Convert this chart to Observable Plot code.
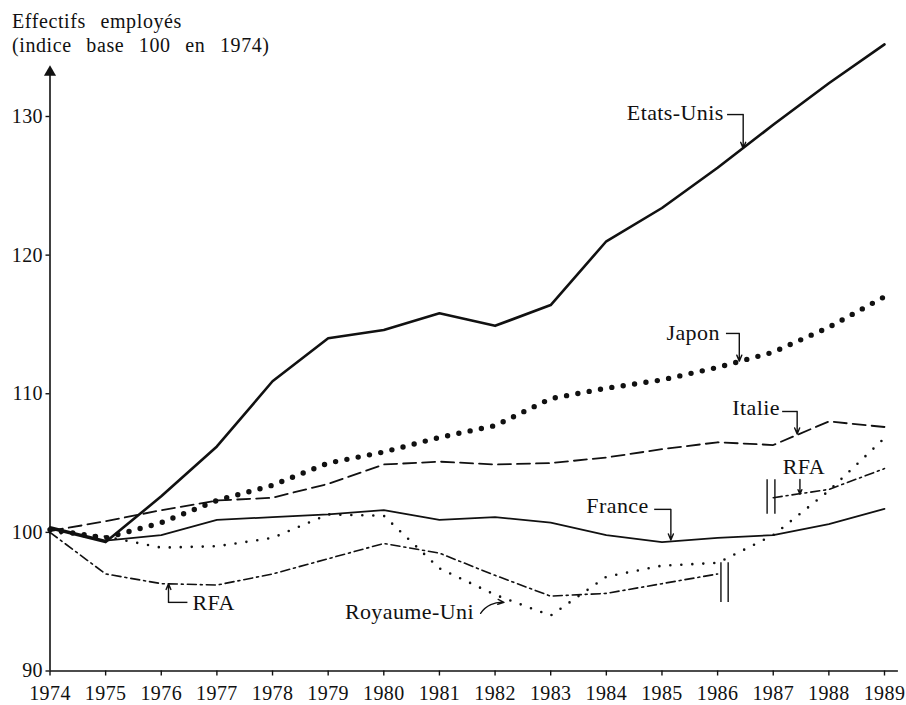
<!DOCTYPE html>
<html><head><meta charset="utf-8">
<script src="https://cdn.jsdelivr.net/npm/d3@7"></script>
<script src="https://cdn.jsdelivr.net/npm/@observablehq/plot@0.6"></script>
<style>
body{margin:0;background:#fff;}
#wrap{position:relative;width:906px;height:705px;overflow:hidden;}
#chart{position:absolute;left:0;top:0;}
#title{position:absolute;left:12px;top:8.7px;font-family:"Liberation Serif",serif;font-size:20px;line-height:24.5px;letter-spacing:0.6px;word-spacing:9px;color:#111;}
#chart svg text{letter-spacing:0.4px;}
</style></head><body>
<div id="wrap"><div id="chart"></div><div id="title">Effectifs employés<br>(indice base 100 en 1974)</div></div>
<script>
// ---- data ----
const years = [1974,1975,1976,1977,1978,1979,1980,1981,1982,1983,1984,1985,1986,1987,1988,1989];
const etatsUnis   = [100.3, 99.3,102.6,106.2,110.9,114.0,114.6,115.8,114.9,116.4,121.0,123.4,126.3,129.4,132.4,135.2];
const japon       = [100.2, 99.6,100.7,102.3,103.4,105.0,105.8,106.85,107.7,109.65,110.4,111.0,111.9,113.0,114.8,117.0];
const italie      = [100.1,100.8,101.6,102.3,102.5,103.5,104.9,105.1,104.9,105.0,105.4,106.0,106.5,106.3,108.0,107.6];
const france      = [100.4, 99.4, 99.8,100.9,101.1,101.3,101.6,100.9,101.1,100.7, 99.8, 99.3, 99.6, 99.8,100.6,101.7];
const royaumeUni  = [100.0, 99.7, 98.9, 99.0, 99.6,101.3,101.2, 97.4, 95.5, 94.0, 96.8, 97.6, 97.8, 99.8,103.0,106.8];
const rfaYears1   = [1974,1975,1976,1977,1978,1979,1980,1981,1982,1983,1984,1985,1986];
const rfa1        = [100.0, 97.0, 96.3, 96.2, 97.0, 98.1, 99.2, 98.5, 96.9, 95.4, 95.6, 96.3, 97.0];
const rfaYears2   = [1987,1988,1989];
const rfa2        = [102.5,103.1,104.6];

const yTicks = [90,100,110,120,130];
const axisXEnd = 1989.25;
const axisYTop = 133.2;

// annotations (data coordinates)
const labelNames  = ["Etats-Unis","Japon","Italie","RFA","France","RFA","Royaume-Uni"];
const labelX      = [1986.11,1986.04,1987.12,1987.55,1984.76,1976.56,1981.62];
const labelY      = [130.28,114.42,109.0,104.69,101.87,94.88,94.23];
const labelAnchor = ["end","end","end","middle","end","start","end"];
const leaderX1 = [1986.17,1986.15,1987.16,1984.86,1976.47];
const leaderX2 = [1986.46,1986.39,1987.43,1985.16,1976.13];
const leaderY  = [130.14,114.35,108.72,101.66,94.95];
const arrowX   = [1986.46,1986.39,1987.43,1987.48,1985.16,1976.13];
const arrowY1  = [130.14,114.35,108.72,103.82,101.66,94.95];
const arrowY2  = [127.7,112.35,107.1,102.75,99.45,96.3];
const ukArrow  = [{x1:1981.74,y1:94.16,x2:1982.16,y2:94.95}];
const breakX   = [1986.06,1986.19,1986.89,1987.03];
const breakY1  = [94.95,94.95,101.3,101.3];
const breakY2  = [97.8,97.8,103.8,103.8];

// ---- build tables ----
const toRows = (xs, vs) => xs.map((x,i)=>({year:x, value:vs[i]}));
const labels = labelNames.map((t,i)=>({t, x:labelX[i], y:labelY[i], a:labelAnchor[i]}));
const leaders = leaderY.map((y,i)=>({x1:leaderX1[i], x2:leaderX2[i], y}));
const arrows = arrowX.map((x,i)=>({x, y1:arrowY1[i], y2:arrowY2[i]}));
const breaks = breakX.map((x,i)=>({x, y1:breakY1[i], y2:breakY2[i]}));

const ink = "#111";
const lineOpts = (o) => Object.assign({x:"year", y:"value", stroke:ink, strokeLinejoin:"round"}, o);
const labelMark = (anchor) => Plot.text(labels.filter(d => d.a === anchor),
  {x:"x", y:"y", text:"t", textAnchor:anchor, fontSize:22, fill:ink});

const chart = Plot.plot({
  width: 906, height: 705,
  marginLeft: 49.5, marginRight: 22, marginTop: 116, marginBottom: 34.5,
  x: {domain:[1974,1989]},
  y: {domain:[90,130]},
  style: {fontFamily:"Liberation Serif, serif", fontSize:"20px", color:ink, background:"transparent", overflow:"visible"},
  marks: [
    Plot.axisY({ticks: yTicks, tickSize: 4, tickPadding: 3, label: null, fontSize: 20, strokeWidth: 1.4}),
    Plot.axisX({ticks: years, tickSize: 5, tickPadding: 9.5, tickFormat: d => String(d), label: null, fontSize: 20, strokeWidth: 1.4}),
    Plot.ruleY([{y:90, x1:1974, x2:axisXEnd}], {y:"y", x1:"x1", x2:"x2", stroke:ink, strokeWidth:1.6}),
    Plot.ruleX([{x:1974, y1:90, y2:axisYTop}], {x:"x", y1:"y1", y2:"y2", stroke:ink, strokeWidth:1.6}),
    Plot.dot([{x:1974, y:axisYTop}], {x:"x", y:"y", symbol:"triangle", r:4.5, fill:ink, stroke:"none"}),

    Plot.line(toRows(years, etatsUnis), lineOpts({strokeWidth:2.6})),
    Plot.line(toRows(years, france), lineOpts({strokeWidth:1.7})),
    Plot.line(toRows(years, italie), lineOpts({strokeWidth:1.8, strokeDasharray:"13 6"})),
    Plot.line(toRows(years, japon), lineOpts({strokeWidth:5.4, strokeDasharray:"0 11.5", strokeLinecap:"round"})),
    Plot.line(toRows(years, royaumeUni), lineOpts({strokeWidth:2.6, strokeDasharray:"0 11", strokeLinecap:"round"})),
    Plot.line(toRows(rfaYears1, rfa1), lineOpts({strokeWidth:1.6, strokeDasharray:"9 4 2 4"})),
    Plot.line(toRows(rfaYears2, rfa2), lineOpts({strokeWidth:1.6, strokeDasharray:"9 4 2 4"})),

    Plot.ruleX(breaks, {x:"x", y1:"y1", y2:"y2", stroke:ink, strokeWidth:1.4}),
    Plot.link(leaders, {x1:"x1", x2:"x2", y1:"y", y2:"y", stroke:ink, strokeWidth:1.4}),
    Plot.arrow(arrows, {x1:"x", x2:"x", y1:"y1", y2:"y2", stroke:ink, strokeWidth:1.4, headLength:7, headAngle:45}),
    Plot.arrow(ukArrow, {x1:"x1", x2:"x2", y1:"y1", y2:"y2", stroke:ink, strokeWidth:1.4, headLength:7, headAngle:45, bend:30}),
    labelMark("end"),
    labelMark("middle"),
    labelMark("start")
  ]
});
document.getElementById("chart").appendChild(chart);
</script>
</body></html>
